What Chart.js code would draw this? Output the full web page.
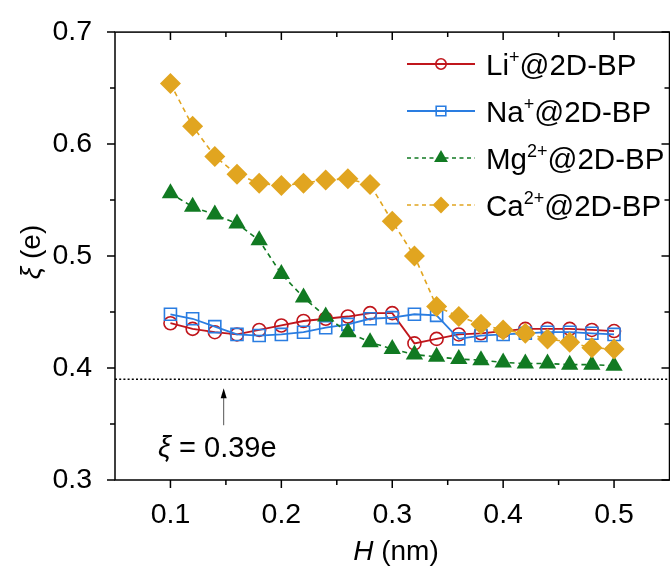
<!DOCTYPE html>
<html>
<head>
<meta charset="utf-8">
<script src="https://cdn.jsdelivr.net/npm/chart.js@4.4.1/dist/chart.umd.min.js"></script>
<style>
  html, body { margin: 0; padding: 0; background: #fff; overflow: hidden; }
  #wrap { width: 680px; height: 569px; }
</style>
</head>
<body>
<div id="wrap"><canvas id="c" width="680" height="569"></canvas></div>
<script>
// H (nm) and xi (e)
const H = [0.10, 0.12, 0.14, 0.16, 0.18, 0.20, 0.22, 0.24, 0.26, 0.28, 0.30,
           0.32, 0.34, 0.36, 0.38, 0.40, 0.42, 0.44, 0.46, 0.48, 0.50];
const li = [0.440, 0.435, 0.432, 0.430, 0.434, 0.438, 0.442, 0.444, 0.446, 0.449, 0.449,
            0.422, 0.426, 0.430, 0.431, 0.433, 0.435, 0.435, 0.435, 0.434, 0.433];
const na = [0.448, 0.444, 0.437, 0.430, 0.429, 0.430, 0.432, 0.436, 0.439, 0.444, 0.445,
            0.448, 0.447, 0.426, 0.429, 0.430, 0.431, 0.432, 0.432, 0.431, 0.430];
const mg = [0.556, 0.544, 0.537, 0.529, 0.514, 0.484, 0.463, 0.446, 0.432, 0.423, 0.417,
            0.412, 0.410, 0.408, 0.407, 0.405, 0.404, 0.404, 0.403, 0.403, 0.402];
const ca = [0.654, 0.616, 0.589, 0.573, 0.565, 0.563, 0.565, 0.568, 0.569, 0.564, 0.531,
            0.500, 0.455, 0.446, 0.439, 0.434, 0.431, 0.426, 0.423, 0.418, 0.417];
const xMajor = [0.1, 0.2, 0.3, 0.4, 0.5];
const xMinor = [0.15, 0.25, 0.35, 0.45];
const yMajor = [0.3, 0.4, 0.5, 0.6, 0.7];
const yMinor = [0.35, 0.45, 0.55, 0.65];
const refLevel = 0.39;
const arrowAt = 0.148;

const FONT = '"Liberation Sans", Arial, sans-serif';
const RED = '#C0161C', BLUE = '#2A7DE1', GREEN = '#117A22', GOLD = '#E1A520';

const series = [
  { ion: 'Li', sup: '+', data: li, color: RED, style: 'circle', radius: 6.5, fill: false, dash: [] },
  { ion: 'Na', sup: '+', data: na, color: BLUE, style: 'rect', radius: 8.5, fill: false, dash: [] },
  { ion: 'Mg', sup: '2+', data: mg, color: GREEN, style: 'triangle', radius: 10, fill: true, dash: [5, 4] },
  { ion: 'Ca', sup: '2+', data: ca, color: GOLD, style: 'rectRot', radius: 10.5, fill: true, dash: [5, 4] }
];

function pts(arr) { return H.map((h, i) => ({ x: h, y: arr[i] })); }

const frame = {
  id: 'frame',
  beforeDatasetsDraw(chart) {
    const { ctx, chartArea: a, scales: { y } } = chart;
    const py = y.getPixelForValue(refLevel);
    ctx.save();
    ctx.strokeStyle = '#000';
    ctx.lineWidth = 1.6;
    ctx.setLineDash([2, 2.2]);
    ctx.beginPath();
    ctx.moveTo(a.left, py);
    ctx.lineTo(a.right, py);
    ctx.stroke();
    ctx.restore();
  },
  afterDraw(chart) {
    const { ctx, chartArea: a, scales: { x, y } } = chart;
    ctx.save();
    ctx.strokeStyle = '#000';
    ctx.lineWidth = 1.5;
    ctx.strokeRect(a.left, a.top, a.right - a.left, a.bottom - a.top);
    ctx.beginPath();
    const tick = (vals, len) => {
      vals.forEach(v => {
        const px = x.getPixelForValue(v);
        ctx.moveTo(px, a.bottom); ctx.lineTo(px, a.bottom + len);
        ctx.moveTo(px, a.top); ctx.lineTo(px, a.top + len);
      });
    };
    const ytick = (vals, len) => {
      vals.forEach(v => {
        const py = y.getPixelForValue(v);
        ctx.moveTo(a.left, py); ctx.lineTo(a.left - len, py);
        ctx.moveTo(a.right, py); ctx.lineTo(a.right - len, py);
      });
    };
    tick(xMajor, 8); tick(xMinor, 5);
    ytick(yMajor, 8); ytick(yMinor, 5);
    ctx.stroke();

    // annotation arrow and text
    const ax = x.getPixelForValue(arrowAt);
    const ay = y.getPixelForValue(refLevel);
    ctx.strokeStyle = '#555';
    ctx.fillStyle = '#000';
    ctx.lineWidth = 1;
    ctx.beginPath();
    ctx.moveTo(ax, ay + 46); ctx.lineTo(ax, ay + 16);
    ctx.stroke();
    ctx.beginPath();
    ctx.moveTo(ax, ay + 9); ctx.lineTo(ax - 3, ay + 19); ctx.lineTo(ax + 3, ay + 19);
    ctx.closePath(); ctx.fill();

    ctx.textBaseline = 'alphabetic';
    ctx.textAlign = 'left';
    let tx = 158;
    ctx.font = 'italic 29px ' + FONT;
    ctx.fillText('ξ', tx, 457);
    tx += ctx.measureText('ξ').width;
    ctx.font = '29px ' + FONT;
    ctx.fillText(' = 0.39e', tx, 457);

    // axis titles
    ctx.font = 'italic 28px ' + FONT;
    const hW = ctx.measureText('H').width;
    ctx.font = '28px ' + FONT;
    const restW = ctx.measureText(' (nm)').width;
    let sx = 396 - (hW + restW) / 2;
    ctx.font = 'italic 28px ' + FONT;
    ctx.fillText('H', sx, 560);
    ctx.font = '28px ' + FONT;
    ctx.fillText(' (nm)', sx + hW, 560);

    ctx.save();
    ctx.translate(40, 252);
    ctx.rotate(-Math.PI / 2);
    ctx.font = 'italic 28px ' + FONT;
    const xiW = ctx.measureText('ξ').width;
    ctx.font = '28px ' + FONT;
    const eW = ctx.measureText(' (e)').width;
    let ox = -(xiW + eW) / 2;
    ctx.font = 'italic 28px ' + FONT;
    ctx.fillText('ξ', ox, 0);
    ctx.font = '28px ' + FONT;
    ctx.fillText(' (e)', ox + xiW, 0);
    ctx.restore();

    // legend
    series.forEach((s, i) => {
      const ry = 64 + i * 47;
      ctx.strokeStyle = s.color;
      ctx.lineWidth = s.dash.length ? 1.6 : 2;
      ctx.setLineDash(s.dash.length ? [4, 3.5] : []);
      ctx.beginPath();
      ctx.moveTo(407, ry); ctx.lineTo(475, ry);
      ctx.stroke();
      ctx.setLineDash([]);
      ctx.fillStyle = s.fill ? s.color : 'rgba(0,0,0,0)';
      ctx.lineWidth = 1.6;
      Chart.helpers.drawPoint(ctx, {
        pointStyle: s.style, radius: s.radius * 0.8, rotation: 0, borderWidth: s.fill ? 0 : 1.6
      }, 441, ry);
      ctx.fillStyle = '#000';
      let lx = 486;
      ctx.font = '29.5px ' + FONT;
      ctx.fillText(s.ion, lx, ry + 10.5);
      lx += ctx.measureText(s.ion).width;
      ctx.font = '18px ' + FONT;
      ctx.fillText(s.sup, lx, ry - 1);
      lx += ctx.measureText(s.sup).width;
      ctx.font = '29.5px ' + FONT;
      ctx.fillText('@2D-BP', lx, ry + 10.5);
    });
    ctx.restore();
  }
};

new Chart(document.getElementById('c'), {
  type: 'line',
  data: {
    datasets: series.map((s, i) => ({
      label: s.ion + s.sup + '@2D-BP',
      data: pts(s.data),
      borderColor: s.color,
      borderWidth: s.dash.length ? 1.6 : 1.8,
      borderDash: s.dash,
      pointStyle: s.style,
      pointRadius: s.radius,
      pointBorderColor: s.color,
      pointBackgroundColor: s.fill ? s.color : 'rgba(0,0,0,0)',
      pointBorderWidth: s.fill ? 0 : 1.6,
      tension: 0,
      order: 3 - i
    }))
  },
  options: {
    responsive: false,
    animation: false,
    events: [],
    layout: { padding: { top: 30, right: 5, left: 0, bottom: 0 } },
    plugins: { legend: { display: false }, tooltip: { enabled: false } },
    scales: {
      x: {
        type: 'linear', min: 0.05, max: 0.55,
        grid: { display: false }, border: { display: false },
        afterBuildTicks: sc => { sc.ticks = xMajor.map(v => ({ value: v })); },
        afterFit: sc => { sc.height = 89; },
        ticks: {
          padding: 10, color: '#000',
          font: { family: FONT, size: 28.5 },
          callback: v => v.toFixed(1)
        }
      },
      y: {
        type: 'linear', min: 0.3, max: 0.7,
        grid: { display: false }, border: { display: false },
        afterBuildTicks: sc => { sc.ticks = yMajor.map(v => ({ value: v })); },
        afterFit: sc => { sc.width = 115; },
        ticks: {
          padding: 15, color: '#000',
          font: { family: FONT, size: 28.5 },
          callback: v => v.toFixed(1)
        }
      }
    }
  },
  plugins: [frame]
});
</script>
</body>
</html>
